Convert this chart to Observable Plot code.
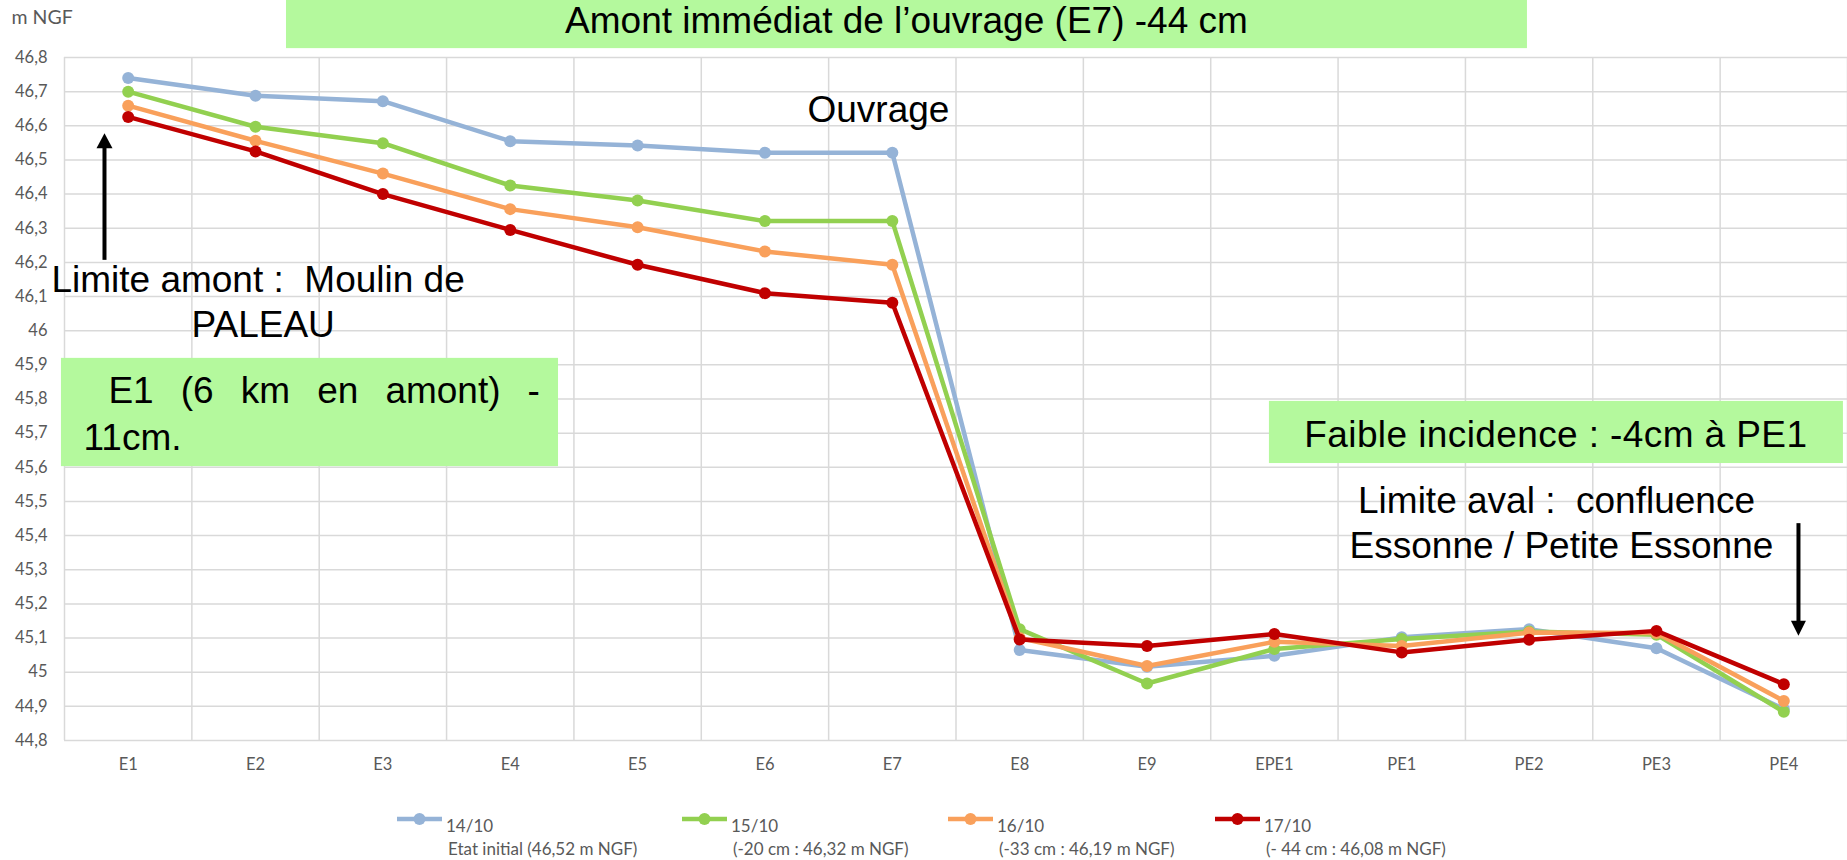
<!DOCTYPE html>
<html><head><meta charset="utf-8">
<script src="https://cdn.jsdelivr.net/npm/d3@7"></script>
<script src="https://cdn.jsdelivr.net/npm/@observablehq/plot@0.6"></script>
<style>
body{margin:0;background:#fff;}
#wrap{width:1847px;height:860px;position:relative;overflow:hidden;background:#fff;}
#chart svg text{white-space:pre;}
</style></head><body>
<div id="wrap"><div id="chart"></div><div id="legend"></div></div>
<script>
// ---- data ----
const categories = ["E1","E2","E3","E4","E5","E6","E7","E8","E9","EPE1","PE1","PE2","PE3","PE4"];
const seriesNames = ["14/10","15/10","16/10","17/10"];
const seriesNotes = ["Etat initial (46,52 m NGF)","(-20 cm : 46,32 m NGF)","(-33 cm : 46,19 m NGF)","(- 44 cm : 46,08 m NGF)"];
const seriesColors = ["#95b3d7","#92d050","#f9a05b","#c00000"];
const v1410 = [46.74, 46.688, 46.672, 46.555, 46.542, 46.521, 46.521, 45.065, 45.016, 45.048, 45.102, 45.126, 45.070, 44.892];
const v1510 = [46.70, 46.597, 46.549, 46.425, 46.381, 46.321, 46.321, 45.126, 44.967, 45.068, 45.097, 45.119, 45.110, 44.884];
const v1610 = [46.659, 46.556, 46.460, 46.356, 46.303, 46.232, 46.193, 45.100, 45.018, 45.089, 45.077, 45.116, 45.115, 44.916];
const v1710 = [46.626, 46.525, 46.400, 46.295, 46.193, 46.110, 46.082, 45.096, 45.077, 45.112, 45.058, 45.095, 45.121, 44.965];
const seriesValues = [v1410, v1510, v1610, v1710];
const yTicks = [44.8,44.9,45.0,45.1,45.2,45.3,45.4,45.5,45.6,45.7,45.8,45.9,46.0,46.1,46.2,46.3,46.4,46.5,46.6,46.7,46.8];
const yUnit = "m NGF";

// ---- annotations (in data coordinates) ----
const boxes = [
  {x1: 1.243, x2: 10.987, y1: 46.967, y2: 46.826},
  {x1: -0.524, x2: 3.379, y1: 45.919, y2: 45.602},
  {x1: 8.961, x2: 13.468, y1: 45.793, y2: 45.611}
];
const notesMiddle = [
  {x: 6.111, y: 46.905, text: "Amont immédiat de l’ouvrage (E7) -44 cm"},
  {x: 1.02, y: 46.147, text: "Limite amont :  Moulin de"},
  {x: 1.06, y: 46.015, text: "PALEAU"},
  {x: 11.21, y: 45.693, text: "Faible incidence : -4cm à PE1"},
  {x: 11.215, y: 45.500, text: "Limite aval :  confluence"},
  {x: 11.254, y: 45.368, text: "Essonne / Petite Essonne"}
];
const notesStart = [
  {x: 5.334, y: 46.645, text: "Ouvrage"},
  {x: -0.155, y: 45.822, text: "E1 (6 km en amont) -"},
  {x: -0.351, y: 45.684, text: "11cm."}
];
const shafts = [
  {x: -0.186, y1: 46.206, y2: 46.542},
  {x: 13.115, y1: 45.435, y2: 45.146}
];
const upHeads = [{x: -0.186, y: 46.578}];
const downHeads = [{x: 13.115, y: 45.107}];

const upSym = {draw(c){ c.moveTo(0,0); c.lineTo(-8,15); c.lineTo(8,15); c.closePath(); }};
const downSym = {draw(c){ c.moveTo(0,0); c.lineTo(-7.5,-15); c.lineTo(7.5,-15); c.closePath(); }};

const bounds = d3.range(categories.length + 1).map(i => i - 0.5);
const fmt = d => String(Math.round(d * 10) / 10).replace(".", ",");

const marks = [
  Plot.ruleY(yTicks, {stroke: "#d9d9d9", strokeWidth: 1.5}),
  Plot.ruleX(bounds, {stroke: "#d9d9d9", strokeWidth: 1.5}),
  Plot.rect(boxes, {x1: "x1", x2: "x2", y1: "y1", y2: "y2", fill: "#b4f99d"})
];
seriesValues.forEach((vals, k) => {
  marks.push(Plot.line(vals, {x: (d, i) => i, y: d => d, stroke: seriesColors[k], strokeWidth: 4.5, strokeLinejoin: "round"}));
  marks.push(Plot.dot(vals, {x: (d, i) => i, y: d => d, r: 6, fill: seriesColors[k], stroke: "none"}));
});
marks.push(
  Plot.text(notesMiddle, {x: "x", y: "y", text: "text", textAnchor: "middle", lineAnchor: "middle", fontSize: 37, fontFamily: "Liberation Sans", fill: "black"}),
  Plot.text(notesStart, {x: "x", y: "y", text: "text", textAnchor: "start", lineAnchor: "middle", fontSize: 37, fontFamily: "Liberation Sans", fill: "black"}),
  Plot.text([{x: -0.916, y: 46.915}], {x: "x", y: "y", text: () => yUnit, textAnchor: "start", lineAnchor: "middle", fontSize: 19.5, fontFamily: "Lato", fill: "#595959"}),
  Plot.ruleX(shafts, {x: "x", y1: "y1", y2: "y2", stroke: "black", strokeWidth: 4}),
  Plot.dot(upHeads, {x: "x", y: "y", r: 5, symbol: upSym, fill: "black", stroke: "none"}),
  Plot.dot(downHeads, {x: "x", y: "y", r: 5, symbol: downSym, fill: "black", stroke: "none"})
);

const chart = Plot.plot({
  width: 1847,
  height: 780,
  marginLeft: 64,
  marginRight: 0,
  marginTop: 57,
  marginBottom: 40,
  style: {fontFamily: "Lato", fontSize: "16.5px", color: "#595959", background: "white"},
  x: {type: "linear", domain: [-0.5, 13.5], ticks: d3.range(categories.length), tickFormat: i => categories[i], tickSize: 0, tickPadding: 18, label: null},
  y: {domain: [44.8, 46.8], ticks: yTicks, tickFormat: fmt, tickSize: 0, tickPadding: 17, label: null},
  marks
});
chart.querySelectorAll("text").forEach(t => {
  t.setAttributeNS("http://www.w3.org/XML/1998/namespace", "xml:space", "preserve");
  if (t.textContent === "E1 (6 km en amont) -") t.setAttribute("word-spacing", "16.8");
  if (t.textContent === "Faible incidence : -4cm à PE1") t.setAttribute("letter-spacing", "0.4");
});
document.getElementById("chart").appendChild(chart);

// ---- legend (below the plot) ----
const legendLeft = [397, 682, 948, 1215];
const lg = d3.select("#legend").append("svg").attr("width", 1847).attr("height", 80)
  .style("display", "block").style("font-family", "Lato").style("font-size", "17px");
seriesNames.forEach((name, k) => {
  const g = lg.append("g").attr("transform", `translate(${legendLeft[k]},0)`);
  g.append("line").attr("x1", 0).attr("x2", 45).attr("y1", 39).attr("y2", 39)
    .attr("stroke", seriesColors[k]).attr("stroke-width", 4.5);
  g.append("circle").attr("cx", 22.5).attr("cy", 39).attr("r", 6).attr("fill", seriesColors[k]);
  g.append("text").attr("x", 49).attr("y", 52).attr("fill", "#595959").text(name);
  g.append("text").attr("x", 51).attr("y", 75).attr("fill", "#595959").text(seriesNotes[k]);
});
</script>
</body></html>
